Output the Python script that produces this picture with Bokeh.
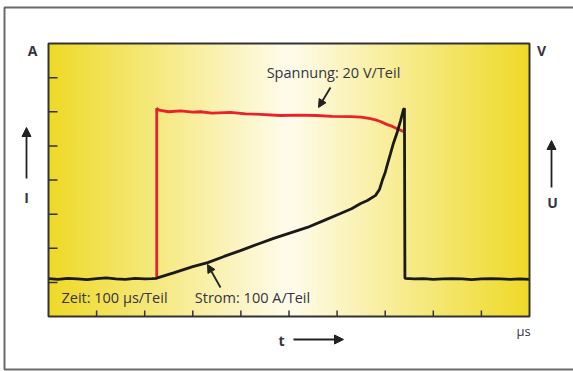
import numpy as np
from bokeh.plotting import figure
from bokeh.models import Range1d, Label, Arrow, NormalHead
from bokeh.embed import file_html
from bokeh.resources import INLINE

# ---- data ----
# current trace (A), time in microseconds
t_current = [0, 20, 40, 60, 80, 100, 120, 140, 160, 180, 200, 215, 225,
             228, 260, 300, 331, 365, 399, 433, 468, 503, 538, 572, 607, 630,
             649, 663, 680, 688, 694, 700, 705, 711, 717, 725, 732, 738, 740,
             741, 760, 780, 800, 820, 840, 860, 880, 900, 920, 940, 960, 980, 1000]
i_current = [111, 109, 112, 110, 108, 111, 113, 110, 109, 112, 110, 111, 112,
             114, 128, 146, 158, 176, 193, 211, 229, 245, 261, 281, 302, 316,
             331, 340, 355, 372, 399, 422, 448, 477, 507, 540, 574, 607, 610,
             112, 110, 111, 109, 110, 111, 110, 108, 110, 111, 110, 109, 110, 109]
# voltage trace (V)
t_voltage = [225, 225, 230, 250, 275, 300, 316, 340, 378, 410, 440, 482, 520,
             557, 590, 628, 650, 669, 680, 690, 703, 715, 727, 738]
u_voltage = [22, 122, 121, 120, 120.5, 119.8, 120, 119.2, 119.6, 118.8, 118.5,
             117.8, 118, 117.8, 117.3, 117.2, 116.8, 116, 115.2, 114.3, 112.6,
             111.4, 109.8, 108.4]
y_ticks_A = [100, 200, 300, 400, 500, 600, 700]
x_ticks_us = [100, 200, 300, 400, 500, 600, 700, 800, 900]
T_MAX, I_MAX, U_MAX = 1000, 800, 160

# ---- page geometry ----
OX, OY = 0, 0            # page offset of the canvas in the photo
CW, CH = 573, 371        # canvas size
PX0, PX1 = 48, 529       # graticule left/right
PY0, PY1 = 43, 316       # graticule top/bottom
sx = (PX1 - PX0) / T_MAX
sy = (PY1 - PY0) / I_MAX

def tx(px):
    return (px - PX0) / sx

def ay(py):
    return (PY1 - py) / sy

TXT = "#35353f"
FONT = "Open Sans"

p = figure(width=CW, height=CH,
           x_range=Range1d(tx(OX), tx(OX + CW)),
           y_range=Range1d(ay(OY + CH), ay(OY)),
           output_backend="svg", toolbar_location=None,
           min_border=0, x_axis_location=None, y_axis_location=None)
p.extra_y_ranges = {"volt": Range1d(ay(OY + CH) * U_MAX / I_MAX, ay(OY) * U_MAX / I_MAX)}
p.background_fill_color = "white"
p.border_fill_color = "white"
p.outline_line_color = None
p.grid.visible = False

# outer frame
p.quad(left=tx(4), right=tx(580), bottom=ay(369), top=ay(7),
       fill_color=None, line_color="#6a6a6a", line_width=2)

# gradient background of the graticule
n = 240
pos = np.linspace(0, 1, n)
f = 1 - np.abs(pos - 0.5) * 2
edge = np.array([239, 218, 40])
mid = np.array([255, 252, 236])
cols = edge[None, :] + (mid - edge)[None, :] * f[:, None]
img = np.empty((1, n), dtype=np.uint32)
view = img.view(dtype=np.uint8).reshape((1, n, 4))
view[0, :, 0] = cols[:, 0]
view[0, :, 1] = cols[:, 1]
view[0, :, 2] = cols[:, 2]
view[0, :, 3] = 255
p.image_rgba(image=[img], x=0, y=0, dw=T_MAX, dh=I_MAX)

# ticks inside the graticule
p.segment(x0=[0] * len(y_ticks_A), x1=[9 / sx] * len(y_ticks_A),
          y0=y_ticks_A, y1=y_ticks_A, line_color="#333333", line_width=1.5)
p.segment(x0=x_ticks_us, x1=x_ticks_us, y0=[0] * len(x_ticks_us),
          y1=[6 / sy] * len(x_ticks_us), line_color="#333333", line_width=1.5)

# traces
p.line(t_voltage, u_voltage, y_range_name="volt", line_color="#e8222a", line_width=2.8)
p.line(t_current, i_current, line_color="#1a1a1a", line_width=2.8)

# graticule border
p.quad(left=0, right=T_MAX, bottom=0, top=I_MAX, fill_color=None,
       line_color="#333333", line_width=2)

def lab(px, py, text, size="14.5px", bold=False):
    p.add_layout(Label(x=tx(px), y=ay(py), text=text, text_font=FONT, text_font_size=size,
                       text_color=TXT, text_align="center", text_baseline="middle",
                       text_font_style="bold" if bold else "normal"))

def arr(px0, py0, px1, py1, size=8, width=1.8):
    p.add_layout(Arrow(end=NormalHead(size=size, fill_color="#222222", line_color="#222222"),
                       x_start=tx(px0), y_start=ay(py0), x_end=tx(px1), y_end=ay(py1),
                       line_color="#222222", line_width=width))

lab(333, 72, "Spannung: 20 V/Teil")
arr(330, 87, 318, 107)
lab(252, 297, "Strom: 100 A/Teil")
arr(220, 287, 207, 264)
lab(114, 297, "Zeit: 100 µs/Teil")

lab(32, 50, "A", size="14px", bold=True)
lab(541, 50, "V", size="14px", bold=True)
lab(26, 197, "I", size="14px", bold=True)
arr(26, 178, 26, 127, size=9)
lab(552, 202, "U", size="14px", bold=True)
arr(551, 187, 551, 140, size=9)
lab(281, 340, "t", size="14px", bold=True)
arr(293, 339, 343, 339, size=9)
lab(523, 330, "µs", size="13px")

open("out.html", "w").write(file_html(p, INLINE))
